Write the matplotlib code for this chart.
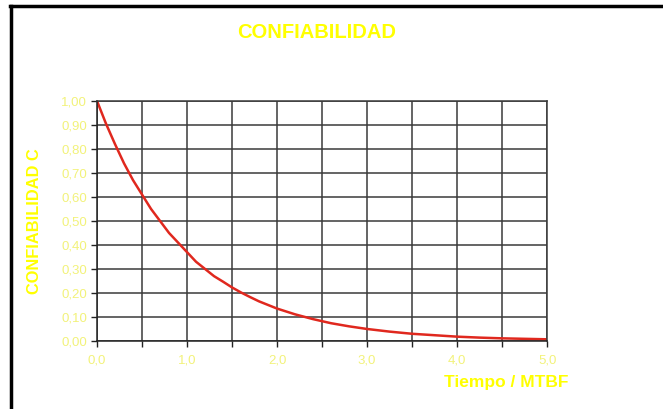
import matplotlib.pyplot as plt
from matplotlib.lines import Line2D
from matplotlib.ticker import MultipleLocator, FuncFormatter

# tiempo normalizado (t / MTBF) y confiabilidad
tiempo = [0.0, 0.1, 0.2, 0.3, 0.4, 0.5, 0.6, 0.7, 0.8, 0.9, 1.0,
          1.1, 1.2, 1.3, 1.4, 1.5, 1.6, 1.7, 1.8, 1.9, 2.0,
          2.2, 2.4, 2.6, 2.8, 3.0, 3.25, 3.5, 3.75, 4.0, 4.25, 4.5, 4.75, 5.0]
confiabilidad = [1.00, 0.905, 0.82, 0.74, 0.67, 0.61, 0.55, 0.50, 0.45, 0.41, 0.37,
                 0.33, 0.30, 0.27, 0.247, 0.223, 0.202, 0.183, 0.165, 0.15, 0.135,
                 0.111, 0.091, 0.074, 0.061, 0.050, 0.039, 0.030, 0.024, 0.018,
                 0.014, 0.011, 0.009, 0.007]

titulo = "CONFIABILIDAD"
etiqueta_y = "CONFIABILIDAD C"
etiqueta_x = "Tiempo / MTBF"

plt.rcParams['font.family'] = ['Liberation Sans', 'DejaVu Sans']
amarillo = '#ffff00'
amarillo_claro = '#f2f27a'

fig = plt.figure(figsize=(6.63, 4.09), dpi=100)
ax = fig.add_axes([0.1463, 0.1663, 0.679, 0.587])

ax.plot(tiempo, confiabilidad, color='#e0281e', lw=1.8,
        solid_capstyle='round', solid_joinstyle='round')

ax.set_xlim(0, 5)
ax.set_ylim(0, 1)
ax.xaxis.set_major_locator(MultipleLocator(0.5))
ax.yaxis.set_major_locator(MultipleLocator(0.1))
ax.xaxis.set_major_formatter(FuncFormatter(
    lambda v, p: f"{v:.1f}".replace('.', ',') if abs(v - round(v)) < 1e-6 else ""))
ax.yaxis.set_major_formatter(FuncFormatter(lambda v, p: f"{v:.2f}".replace('.', ',')))

ax.grid(True, color='#3a3a3a', lw=1.1)
ax.set_axisbelow(True)
for s in ax.spines.values():
    s.set_color('#3a3a3a')
    s.set_linewidth(1.1)
ax.spines['left'].set_color('#222222')
ax.spines['bottom'].set_color('#222222')
ax.tick_params(length=4, width=1, color='#222222', labelcolor=amarillo_claro,
               labelsize=9.5, pad=3)
ax.tick_params(axis='x', pad=6)

fig.text(0.478, 0.921, titulo, color=amarillo, fontsize=14.5, fontweight='bold',
         ha='center', va='center')
fig.text(0.052, 0.46, etiqueta_y, color=amarillo, fontsize=11.8, fontweight='bold',
         rotation=90, ha='center', va='center')
fig.text(0.857, 0.064, etiqueta_x, color=amarillo, fontsize=12.5, fontweight='bold',
         ha='right', va='center')

# marco negro del recuadro (bordes superior e izquierdo)
fig.add_artist(Line2D([0.017, 0.017], [0.0, 0.985], color='black', lw=2.5,
                      transform=fig.transFigure))
fig.add_artist(Line2D([0.015, 1.0], [0.985, 0.985], color='black', lw=2.5,
                      transform=fig.transFigure))

fig.savefig('out.png', dpi=100)
